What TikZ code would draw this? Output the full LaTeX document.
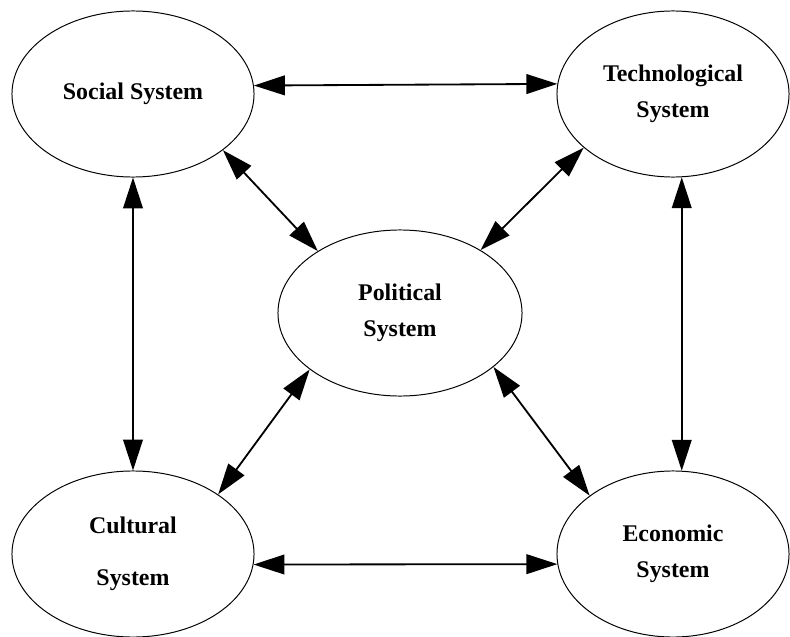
\documentclass[tikz,border=0pt]{standalone}
\usepackage{fontspec}
\setmainfont{Liberation Serif}
\usetikzlibrary{shapes.geometric,arrows.meta}
\tikzset{
  sys/.style={ellipse,draw,line width=0.7pt,minimum width=6.05cm,minimum height=4.15cm,
    align=center,font=\fontsize{17}{26}\selectfont\bfseries},
  link/.style={line width=1.3pt,{Triangle[length=22pt,width=14pt]}-{Triangle[length=22pt,width=14pt]}}
}
\begin{document}
\begin{tikzpicture}[x=0.025cm,y=-0.025cm]
  \useasboundingbox (0,0) rectangle (790,637);
  % the five systems
  \node[sys] (social) at (133,94) {Social System};
  \node[sys,minimum width=5.8cm] (tech) at (673,94) {Technological\\System};
  \node[sys,minimum width=6.1cm] (political) at (400,313) {Political\\System};
  \node[sys] (cultural) at (133,554) {Cultural\\[11pt]System};
  \node[sys,minimum width=5.8cm] (economic) at (673,554) {Economic\\System};
  % outer links
  \draw[link] (social.4.3) -- (tech.175.5);
  \draw[link] (cultural.-5.2) -- (economic.185.5);
  \draw[link] (social.south) -- (cultural.north);
  \draw[link] (tech.-84.5) -- (economic.84.5);
  % links to the middle
  \draw[link] (social.-32.2) -- (political.143.5);
  \draw[link] (tech.211) -- (political.38.4);
  \draw[link] (cultural.35.5) -- (political.212.9);
  \draw[link] (economic.145.5) -- (political.-30.1);
\end{tikzpicture}
\end{document}
